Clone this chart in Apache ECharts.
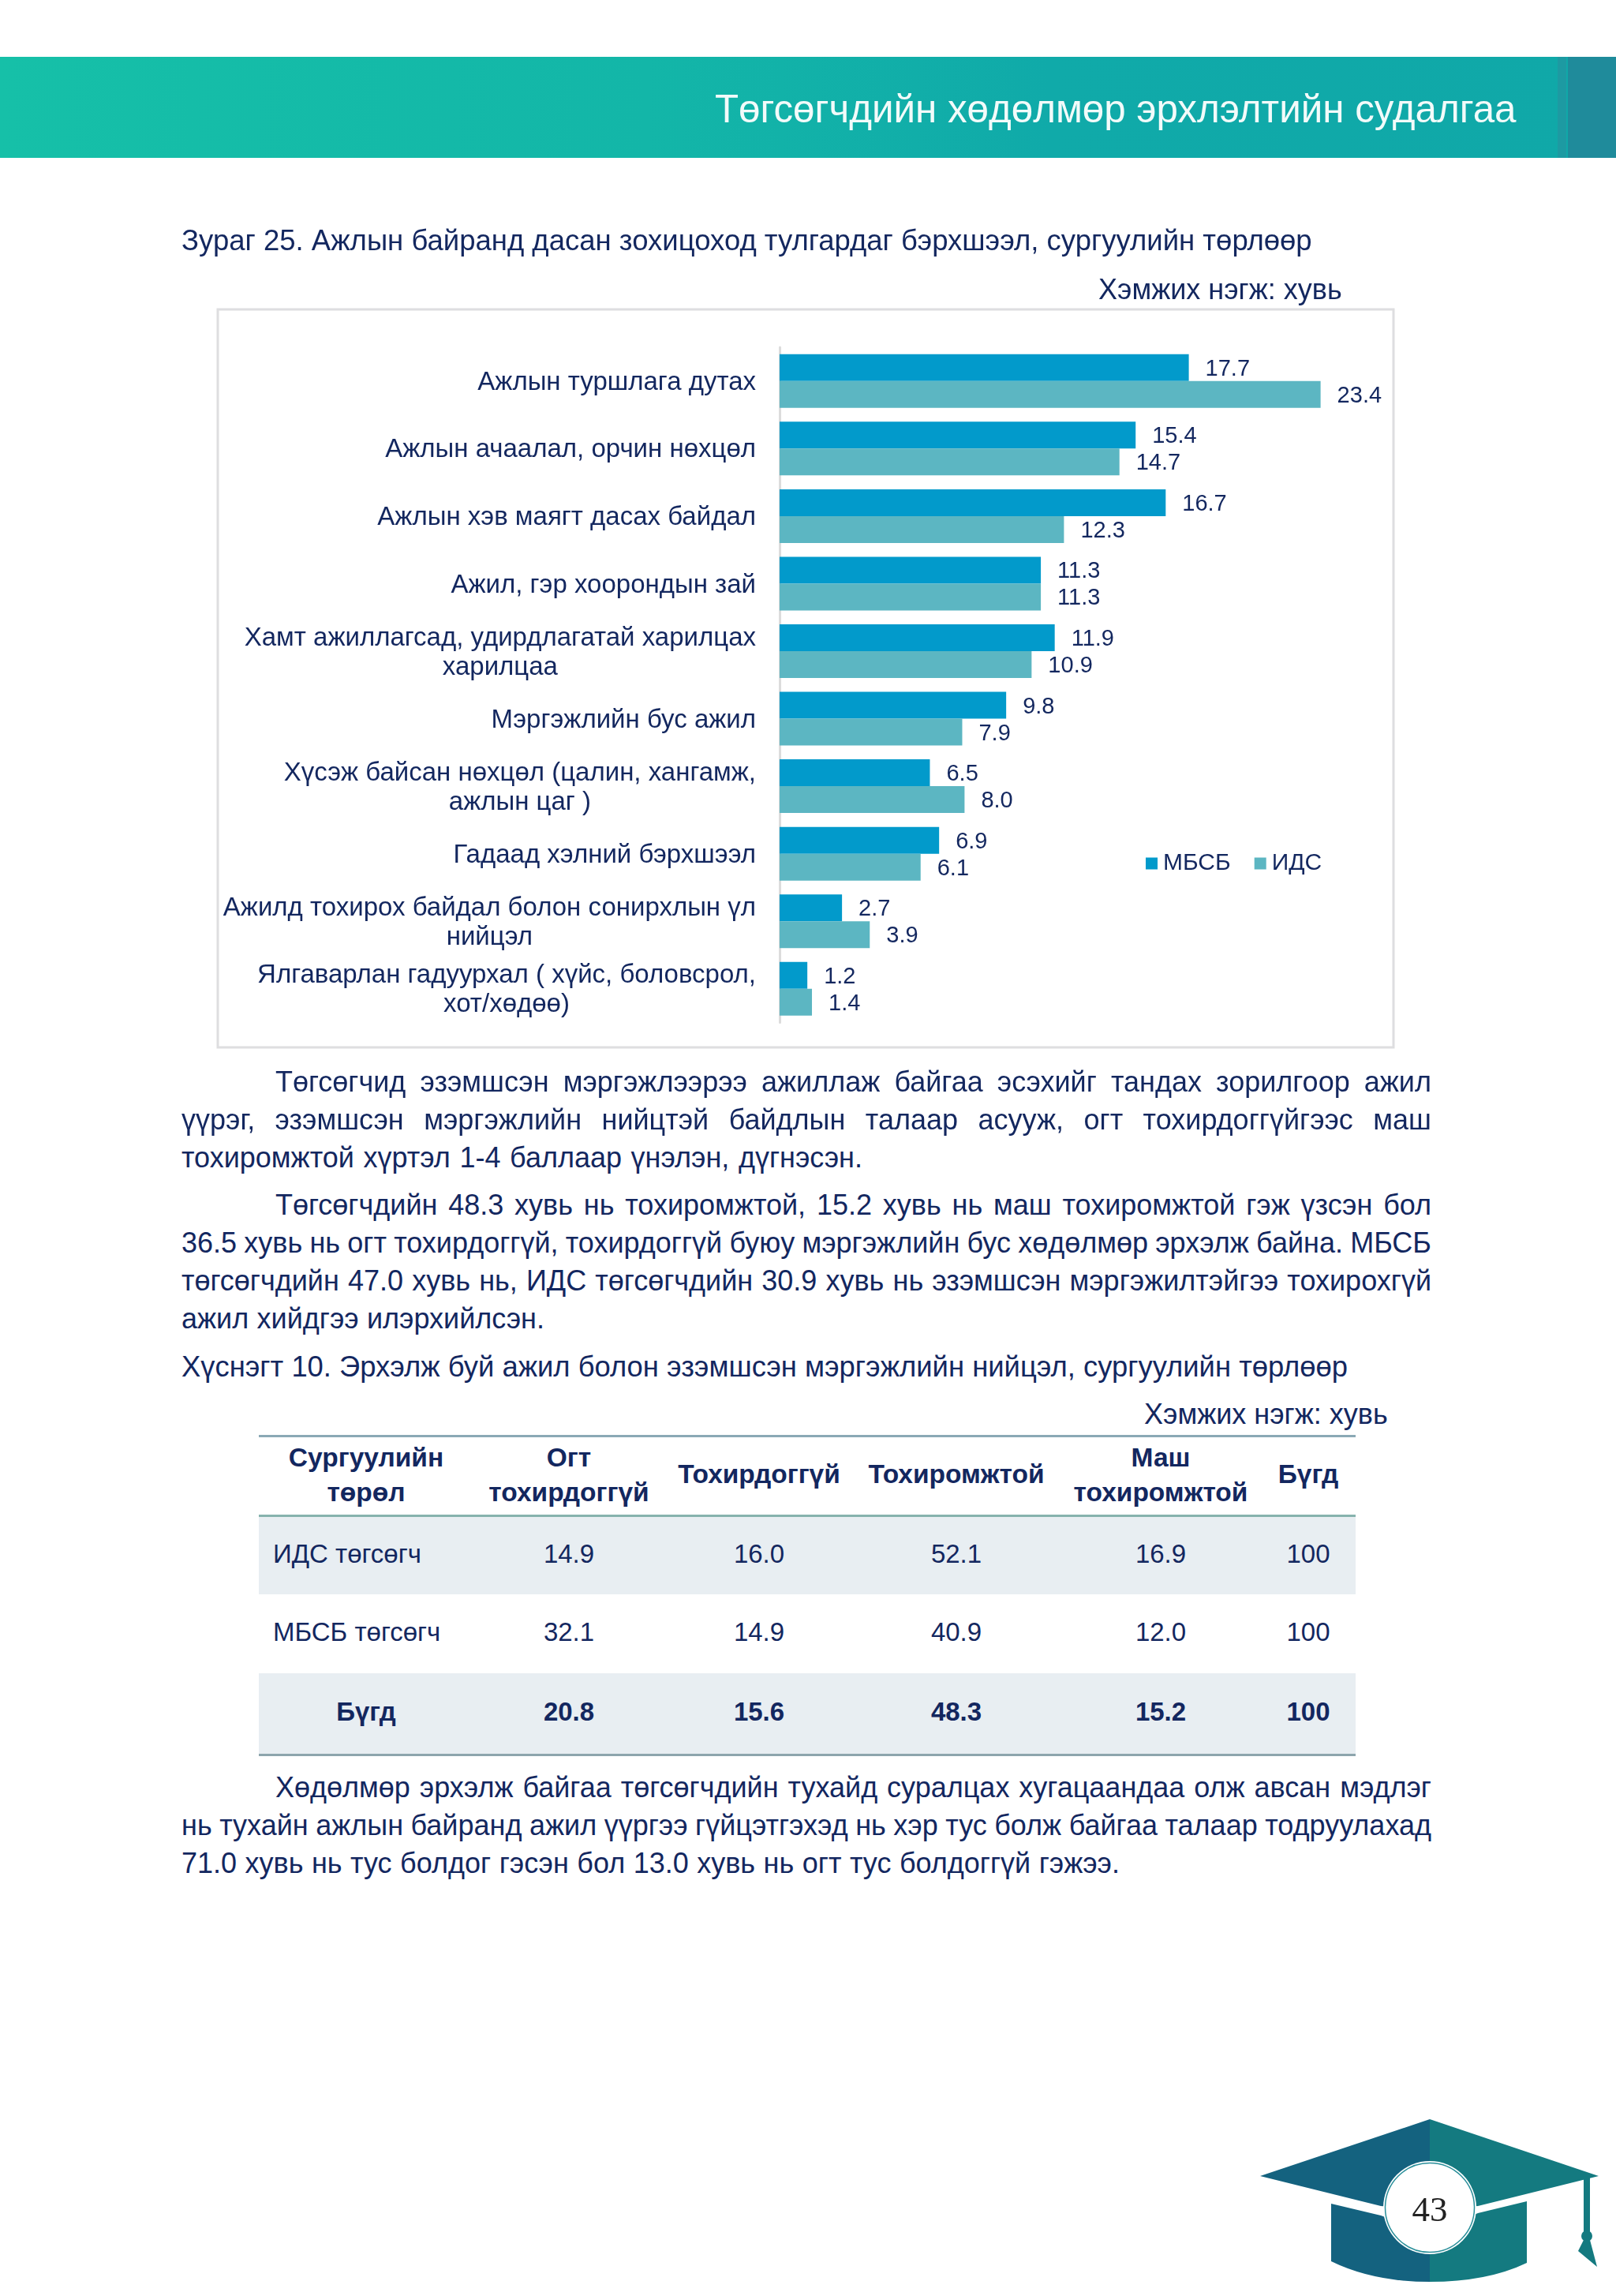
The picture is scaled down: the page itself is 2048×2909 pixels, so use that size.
<!DOCTYPE html>
<html><head><meta charset="utf-8">
<script src="https://cdn.jsdelivr.net/npm/echarts@6/dist/echarts.min.js"></script>
<style>
html,body{margin:0;padding:0;background:#fff;width:2048px;height:2909px;overflow:hidden}
body{position:relative;font-family:"Liberation Sans",Arial,sans-serif;color:#13275f}
.t{position:absolute;white-space:nowrap;height:48px;line-height:48px}
.c{transform:translateX(-50%)}
.box{position:absolute}
#chart{position:absolute;left:0;top:0;width:2048px;height:1400px}
</style></head><body>
<div class="box" style="left:0;top:72px;width:2048px;height:128px;background:linear-gradient(90deg,#16c0a8 0%,#13b6a8 40%,#10aaa9 65%,#10a8a8 100%)"></div>
<div class="box" style="left:1974px;top:72px;width:11px;height:128px;background:#1d9aa2"></div>
<div class="box" style="left:1987px;top:72px;width:61px;height:128px;background:#1f8b9b"></div>
<div id="chart"></div>
<div id="page"></div>
<svg class="box" style="left:0;top:0" width="2048" height="2909">
<polygon points="1812,2685 1597,2757 1750,2795 1812,2800" fill="#14627f"/>
<polygon points="1812,2685 2026,2757 1873,2795 1812,2800" fill="#147a80"/>
<path d="M1687,2792 L1750,2807 L1812,2830 L1812,2891 Q1740,2891 1687,2865 Z" fill="#14627f"/>
<path d="M1935,2789 L1873,2804 L1812,2830 L1812,2891 Q1885,2891 1935,2867 Z" fill="#147a80"/>
<rect x="2007" y="2758" width="8" height="74" fill="#147a80"/>
<circle cx="2011" cy="2833" r="7" fill="#147a80"/>
<polygon points="2007,2838 2000,2852 2024,2872 2015,2838" fill="#147a80"/>
<circle cx="1812" cy="2797" r="59" fill="#fff"/>
<circle cx="1812" cy="2797" r="56.5" fill="#fff" stroke="#2a8f9a" stroke-width="1.5"/>
<text x="1812" y="2814" text-anchor="middle" font-family="Liberation Serif" font-size="45" fill="#222">43</text>
</svg>
<script>
const categories = [
  "Ажлын туршлага дутах",
  "Ажлын ачаалал, орчин нөхцөл",
  "Ажлын хэв маягт дасах байдал",
  "Ажил, гэр хоорондын зай",
  "Хамт ажиллагсад, удирдлагатай харилцах\nхарилцаа",
  "Мэргэжлийн бус ажил",
  "Хүсэж байсан нөхцөл (цалин, хангамж,\nажлын цаг )",
  "Гадаад хэлний бэрхшээл",
  "Ажилд тохирох байдал болон сонирхлын үл\nнийцэл",
  "Ялгаварлан гадуурхал ( хүйс, боловсрол,\nхот/хөдөө)"
];
const mbsb = [17.7, 15.4, 16.7, 11.3, 11.9, 9.8, 6.5, 6.9, 2.7, 1.2];
const ids = [23.4, 14.7, 12.3, 11.3, 10.9, 7.9, 8.0, 6.1, 3.9, 1.4];

const tableHeader = [["Сургуулийн","төрөл"],["Огт","тохирдоггүй"],["Тохирдоггүй"],["Тохиромжтой"],["Маш","тохиромжтой"],["Бүгд"]];
const tableRows = [
  ["ИДС төгсөгч","14.9","16.0","52.1","16.9","100"],
  ["МБСБ төгсөгч","32.1","14.9","40.9","12.0","100"],
  ["Бүгд","20.8","15.6","48.3","15.2","100"]
];
const para1 = ["Төгсөгчид эзэмшсэн мэргэжлээрээ ажиллаж байгаа эсэхийг тандах зорилгоор ажил",
  "үүрэг, эзэмшсэн мэргэжлийн нийцтэй байдлын талаар асууж, огт тохирдоггүйгээс маш",
  "тохиромжтой хүртэл 1-4 баллаар үнэлэн, дүгнэсэн."];
const para2 = ["Төгсөгчдийн 48.3 хувь нь тохиромжтой, 15.2 хувь нь маш тохиромжтой гэж үзсэн бол",
  "36.5 хувь нь огт тохирдоггүй, тохирдоггүй буюу мэргэжлийн бус хөдөлмөр эрхэлж байна. МБСБ",
  "төгсөгчдийн 47.0 хувь нь, ИДС төгсөгчдийн 30.9 хувь нь эзэмшсэн мэргэжилтэйгээ тохирохгүй",
  "ажил хийдгээ илэрхийлсэн."];
const para3 = ["Хөдөлмөр эрхэлж байгаа төгсөгчдийн тухайд суралцах хугацаандаа олж авсан мэдлэг",
  "нь тухайн ажлын байранд ажил үүргээ гүйцэтгэхэд нь хэр тус болж байгаа талаар тодруулахад",
  "71.0 хувь нь тус болдог гэсэн бол 13.0 хувь нь огт тус болдоггүй гэжээ."];
const headerTitle = "Төгсөгчдийн хөдөлмөр эрхлэлтийн судалгаа";
const figureTitle = "Зураг 25. Ажлын байранд дасан зохицоход тулгардаг бэрхшээл, сургуулийн төрлөөр";
const tableTitle = "Хүснэгт 10. Эрхэлж буй ажил болон эзэмшсэн мэргэжлийн нийцэл, сургуулийн төрлөөр";
const unitText = "Хэмжих нэгж: хувь";

const page = document.getElementById('page');
function put(text, x, cy, opt){
  opt = opt || {};
  const d = document.createElement('div');
  d.className = 't' + (opt.center ? ' c' : '');
  d.textContent = text;
  d.style.left = x + 'px';
  d.style.top = (cy - 24) + 'px';
  d.style.fontSize = (opt.size || 36) + 'px';
  if (opt.bold) d.style.fontWeight = 'bold';
  if (opt.color) d.style.color = opt.color;
  page.appendChild(d);
  if (opt.w) {
    const natural = d.getBoundingClientRect().width;
    const gaps = text.split(' ').length - 1;
    d.style.wordSpacing = ((opt.w - natural) / gaps) + 'px';
  }
}
function rect(x,y,w,h,c){
  const d = document.createElement('div');
  d.className='box';
  d.style.cssText += `left:${x}px;top:${y}px;width:${w}px;height:${h}px;background:${c}`;
  page.appendChild(d);
}
put(headerTitle, 906, 138, {size:49.3, color:'#f2fbfa'});
put(figureTitle, 230, 305, {size:36.5});
put(unitText, 1392, 367, {size:36});
const para1W=[1465,1584,863], para2W=[1465,1584,1584,460], para3W=[1465,1584,1189];
para1.forEach((s,i)=>put(s, i==0?349:230, 1371+i*48, {size:36, w: para1W[i]}));
para2.forEach((s,i)=>put(s, i==0?349:230, 1527+i*48, {size:36, w: para2W[i]}));
put(tableTitle, 230, 1732, {size:36.4});
put(unitText, 1450, 1792, {size:36});
para3.forEach((s,i)=>put(s, i==0?349:230, 2265+i*48, {size:36, w: para3W[i]}));

// table
rect(328,1920,1390,100,'#e8eef2');
rect(328,2120,1390,102,'#e8eef2');
rect(328,1818,1390,3,'#8aa9b5');
rect(328,1919,1390,3,'#86b3ad');
rect(328,2222,1390,3,'#8da5ad');
const colX = [464,721,962,1212,1471,1658];
tableHeader.forEach((h,i)=>{
  if(h.length==2){ put(h[0],colX[i],1847,{size:33.5,bold:true,center:true}); put(h[1],colX[i],1891,{size:33.5,bold:true,center:true}); }
  else put(h[0],colX[i],1868,{size:33.5,bold:true,center:true});
});
const rowY=[1969,2068,2169];
tableRows.forEach((r,ri)=>{
  r.forEach((v,ci)=>{
    const bold = ri==2;
    if(ci==0 && !bold) put(v,346,rowY[ri],{size:33});
    else put(v,colX[ci],rowY[ri],{size:33,bold,center:true});
  });
});

// chart
const FONT = '"Liberation Sans", Arial, sans-serif';
const NAVY = '#13275f';
const labelSize = 33;
const ctx = document.createElement('canvas').getContext('2d');
ctx.font = labelSize + 'px ' + FONT;
const rich = {};
categories.forEach((c,i)=>{
  if(c.includes('\n')) rich['c'+i] = {width: ctx.measureText(c.split('\n')[0]).width, align:'center',
    fontFamily:FONT, fontSize:labelSize, lineHeight:37, color:NAVY};
});
const chart = echarts.init(document.getElementById('chart'), null, {renderer:'canvas'});
const seriesLabel = {show:true, position:'right', distance:21, offset:[0,2], color:NAVY, fontFamily:FONT, fontSize:29,
  formatter:p=>p.value.toFixed(1)};
chart.setOption({
  animation:false,
  backgroundColor:'transparent',
  graphic:[{type:'rect', shape:{x:276,y:392,width:1490,height:935}, style:{fill:'#fff',stroke:'#dedee0',lineWidth:3}, z:-1}],
  legend:{left:1452, top:1079, padding:0, itemWidth:15, itemHeight:15, itemGap:30, icon:'rect', data:['МБСБ','ИДС'],
    textStyle:{color:NAVY,fontFamily:FONT,fontSize:30,padding:[0,0,0,2]}},
  grid:{left:988, top:440, width:732.5, height:855.5, containLabel:false},
  xAxis:{type:'value', min:0, max:25, show:false, splitLine:{show:false}},
  yAxis:{type:'category', inverse:true, data:categories,
    axisLine:{show:true,lineStyle:{color:'#dcdcdc',width:3}},
    axisTick:{show:false},
    axisLabel:{margin:30, padding:[4,0,0,0], color:NAVY, fontFamily:FONT, fontSize:labelSize, lineHeight:37, align:'right', rich,
      formatter:(v)=>{ if(!v.includes('\n')) return v;
        return v.split('\n').map(s=>`{c${categories.indexOf(v)}|${s}}`).join('\n'); }}
  },
  series:[
    {name:'МБСБ',type:'bar',data:mbsb,barWidth:34,barGap:'0%',itemStyle:{color:'#029acb'},label:seriesLabel},
    {name:'ИДС',type:'bar',data:ids,barWidth:34,barGap:'0%',itemStyle:{color:'#5cb6c2'},label:seriesLabel}
  ]
});
</script>
</body></html>
